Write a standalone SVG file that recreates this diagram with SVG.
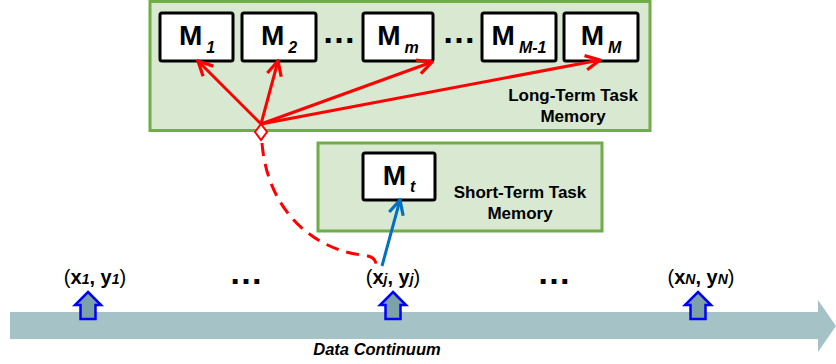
<svg xmlns="http://www.w3.org/2000/svg" width="836" height="364" viewBox="0 0 836 364">
<style>
.grp{fill:#d8e8d1;stroke:#70ad47;stroke-width:3}
.mbox{fill:#ffffff;stroke:#000000;stroke-width:3}
.m{font-family:"Liberation Sans",Arial,sans-serif;font-weight:bold;font-size:28px;fill:#000}
.sub{font-style:italic;font-size:16px}
.lbl{font-family:"Liberation Sans",Arial,sans-serif;font-weight:bold;font-size:17px;fill:#000;text-anchor:middle}
.dots{font-family:"Liberation Sans",Arial,sans-serif;font-weight:bold;font-size:34px;fill:#000;text-anchor:middle}
.data{font-family:"Liberation Sans",Arial,sans-serif;font-size:20px;fill:#000;text-anchor:middle}
.b{font-weight:bold}
.ds{font-weight:bold;font-style:italic;font-size:14px}
.red{stroke:#ff0000;stroke-width:3;fill:none}
.up{fill:#7ca1a9;stroke:#0000ff;stroke-width:2.5}
</style>
<defs>
<marker id="ar" viewBox="0 0 10 10" refX="9" refY="5" markerWidth="6" markerHeight="6" orient="auto" markerUnits="strokeWidth">
<path d="M1,1 L9,5 L1,9" fill="none" stroke="#ff0000" stroke-width="1.8"/>
</marker>
<marker id="ab" viewBox="0 0 10 10" refX="9" refY="5" markerWidth="6" markerHeight="6" orient="auto" markerUnits="strokeWidth">
<path d="M1,1 L9,5 L1,9" fill="none" stroke="#0070c0" stroke-width="1.8"/>
</marker>
</defs>

<g id="data-continuum">
<polygon points="10,312 818,312 818,300 836,326 818,352 818,339 10,339" fill="#a5c3c7"/>
<text x="377" y="355" class="data" style="font-weight:bold;font-style:italic;font-size:16.5px">Data Continuum</text>
</g>

<g id="long-term">
<rect class="grp" x="150" y="1.5" width="500" height="129"/>
<text class="lbl" x="573" y="101">Long-Term Task</text>
<text class="lbl" x="573" y="122">Memory</text>
</g>

<g id="M1"><rect class="mbox" x="160" y="13" width="73" height="48" rx="2"/>
<text class="m" x="197" y="45" text-anchor="middle">M<tspan class="sub" dx="4" dy="8">1</tspan></text></g>
<g id="M2"><rect class="mbox" x="242" y="13" width="74" height="48" rx="2"/>
<text class="m" x="279" y="45" text-anchor="middle">M<tspan class="sub" dx="4" dy="8">2</tspan></text></g>
<text class="dots" x="339" y="43">…</text>
<g id="Mm"><rect class="mbox" x="363" y="13" width="70" height="48" rx="2"/>
<text class="m" x="398" y="45" text-anchor="middle">M<tspan class="sub" dx="4" dy="8">m</tspan></text></g>
<text class="dots" x="459" y="43">…</text>
<g id="MM-1"><rect class="mbox" x="482" y="13" width="74" height="48" rx="2"/>
<text class="m" x="519" y="45" text-anchor="middle">M<tspan class="sub" dx="4" dy="8">M-1</tspan></text></g>
<g id="MM"><rect class="mbox" x="564" y="13" width="74" height="48" rx="2"/>
<text class="m" x="601" y="45" text-anchor="middle">M<tspan class="sub" dx="4" dy="8">M</tspan></text></g>

<g id="short-term">
<rect class="grp" x="318" y="143" width="284" height="88"/>
<text class="lbl" x="520" y="198">Short-Term Task</text>
<text class="lbl" x="520" y="219">Memory</text>
</g>
<g id="Mt"><rect class="mbox" x="363" y="153" width="72" height="47" rx="2"/>
<text class="m" x="399" y="185" text-anchor="middle">M<tspan class="sub" dx="4" dy="7">t</tspan></text></g>

<g id="data-points">
<text class="data" x="95" y="284">(<tspan class="b">x</tspan><tspan class="ds">1</tspan><tspan class="b">, y</tspan><tspan class="ds">1</tspan>)</text>
<text class="dots" x="246" y="284">…</text>
<text class="data" x="393" y="284">(<tspan class="b">x</tspan><tspan class="ds">j</tspan><tspan class="b">, y</tspan><tspan class="ds">j</tspan>)</text>
<text class="dots" x="554" y="284">…</text>
<text class="data" x="701" y="284">(<tspan class="b">x</tspan><tspan class="ds">N</tspan><tspan class="b">, y</tspan><tspan class="ds">N</tspan>)</text>
<polygon class="up" points="88,292 101,305 95.5,305 95.5,319 80.5,319 80.5,305 75,305"/>
<polygon class="up" points="393,292 406,305 400.5,305 400.5,319 385.5,319 385.5,305 380,305"/>
<polygon class="up" points="698,292 711,305 705.5,305 705.5,319 690.5,319 690.5,305 685,305"/>
</g>

<g id="connectors">
<line class="red" x1="261" y1="124" x2="198" y2="61" marker-end="url(#ar)"/>
<line class="red" x1="261" y1="124" x2="278" y2="61" marker-end="url(#ar)"/>
<line class="red" x1="261" y1="124" x2="432" y2="62" marker-end="url(#ar)"/>
<line class="red" x1="261" y1="124" x2="600" y2="60" marker-end="url(#ar)"/>
<path class="red" d="M262,143 C268,215 318,250 362,255 C372,256 376,259 376,265" stroke-dasharray="13,8"/>
<polygon points="261,124 267,132 261,140 255,132" fill="#ffffff" stroke="#ff0000" stroke-width="2"/>
<line x1="382" y1="266" x2="400" y2="200" stroke="#0070c0" stroke-width="3" marker-end="url(#ab)"/>
</g>
</svg>
